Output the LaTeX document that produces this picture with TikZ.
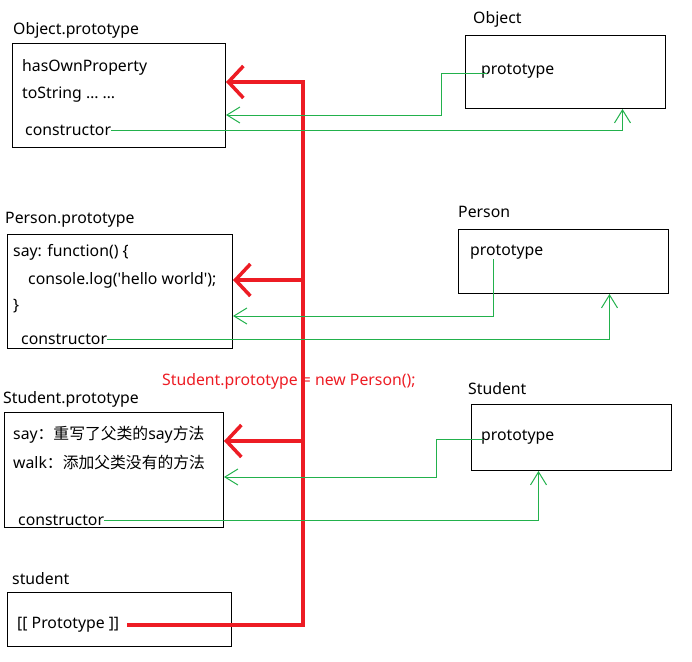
\documentclass[tikz,border=0pt]{standalone}
\usepackage{fontspec}
\setmainfont{Noto Sans}
\newfontfamily\cjk{Noto Sans CJK SC}
\usetikzlibrary{arrows.meta}
\definecolor{paintred}{HTML}{ED1C24}
\definecolor{paintgreen}{HTML}{22B14C}

\begin{document}
\begin{tikzpicture}[x=1pt, y=-1pt,
    box/.style={draw, line width=1pt, anchor=north west, inner sep=0pt},
    txt/.style={anchor=west, inner sep=0pt, font=\fontsize{15.8}{18}\selectfont},
    redlink/.style={draw=paintred, line width=3.5pt, -{Straight Barb[length=15pt,width=32pt]}},
    greenlink/.style={draw=paintgreen, line width=1pt, -{Straight Barb[length=13pt,width=16pt]}}]
    \useasboundingbox (0,0) rectangle (692,661);

    % Boxes
    \node[box, minimum width=213, minimum height=104] (opbox) at (12,43) {};
    \node[box, minimum width=200, minimum height=73] (obox) at (465,35) {};
    \node[box, minimum width=225, minimum height=114] (ppbox) at (7,234) {};
    \node[box, minimum width=210, minimum height=64] (pbox) at (458,229) {};
    \node[box, minimum width=219, minimum height=115] (spbox) at (4,412) {};
    \node[box, minimum width=200, minimum height=66] (sbox) at (471,404) {};
    \node[box, minimum width=224, minimum height=54] (stbox) at (7,592) {};

    % Titles
    \node[txt] (optitle) at (13,30) {Object.prototype};
    \node[txt] (otitle) at (473,19) {Object};
    \node[txt] (pptitle) at (5,220) {Person.prototype};
    \node[txt] (ptitle) at (458,212) {Person};
    \node[txt] (sptitle) at (3,399) {Student.prototype};
    \node[txt] (stitle) at (468,389) {Student};
    \node[txt] (sttitle) at (12,579) {student};

    % Box contents
    \node[txt] (ophas) at (22,67) {hasOwnProperty};
    \node[txt] (opstr) at (22,95) {toString … …};
    \node[txt] (opcons) at (25,130) {constructor};
    \node[txt] (objp) at (481,71) {prototype};

    \node[txt] (ppsay) at (13,252) {say: function() \{};
    \node[txt] (pplog) at (28,280) {console.log(\textquotesingle hello world\textquotesingle);};
    \node[txt] (ppend) at (13,306) {\}};
    \node[txt] (ppcons) at (21,339) {constructor};
    \node[txt] (pp) at (470,252) {prototype};

    \node[txt] (spsay) at (13,435) {say{\cjk ：重写了父类的}say{\cjk 方法}};
    \node[txt] (spwalk) at (13,462) {walk{\cjk ：添加父类没有的方法}};
    \node[txt] (spcons) at (18,520) {constructor};
    \node[txt] (sp) at (481,437) {prototype};

    \node[txt] (stproto) at (17,625) {[[ Prototype ]]};
    \node[txt, text=paintred] (assign) at (162,381) {Student.prototype = new Person();};

    % Red prototype chain
    \coordinate (rtop) at (303,82);
    \coordinate (rp) at (303,280);
    \coordinate (rs) at (303,441);
    \draw[redlink] ([xshift=8]stproto.east) -| (rtop) -- (opbox.east |- rtop);
    \draw[redlink] (rp) -- (ppbox.east |- rp);
    \draw[redlink] (rs) -- (spbox.east |- rs);

    % Green prototype / constructor links
    \draw[greenlink] ([shift={(6,2)}]objp.west) -- ++(-46,0) |- (opbox.east |- 0,115);
    \draw[greenlink] (opcons.east) -| ([xshift=57]obox.south);
    \draw[greenlink] ([xshift=23]pp.south west) |- (ppbox.east |- 0,316);
    \draw[greenlink] (ppcons.east) -| ([xshift=46]pbox.south);
    \draw[greenlink] ([shift={(2,2)}]sp.west) -- ++(-47,0) |- (spbox.east |- 0,477);
    \draw[greenlink] (spcons.east) -| ([xshift=-33]sbox.south);
\end{tikzpicture}
\end{document}
